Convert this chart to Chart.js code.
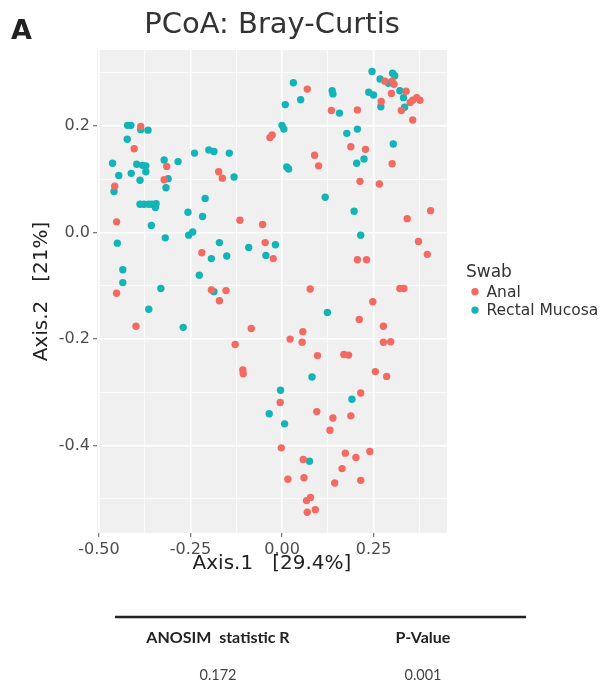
<!DOCTYPE html>
<html>
<head>
<meta charset="utf-8">
<script src="https://cdn.jsdelivr.net/npm/chart.js@4.4.1/dist/chart.umd.min.js"></script>
<style>
  html, body { margin: 0; padding: 0; background: #ffffff; }
  #wrap { position: relative; width: 603px; height: 687px; }
</style>
</head>
<body>
<div id="wrap"><canvas id="c" width="603" height="687"></canvas></div>
<script>
// ---------------- data ----------------
const seriesNames = ['Anal', 'Rectal Mucosa'];
const seriesColors = ['#F26B63', '#12B4B8'];

const analX = [-0.386,-0.404,-0.315,-0.322,-0.457,-0.173,-0.163,
  0.281,0.301,0.306,0.299,0.339,0.357,0.368,0.377,0.350,0.271,0.326,0.357,0.069,0.135,0.206,-0.027,-0.033,0.188,0.228,0.089,0.100,0.301,0.213,0.266,
  -0.452,-0.115,-0.053,-0.219,-0.046,-0.452,-0.193,-0.153,-0.171,-0.399,-0.084,-0.128,
  0.342,0.406,-0.024,0.206,0.231,0.373,0.397,0.077,0.322,0.333,0.248,0.211,0.277,0.057,0.022,0.055,0.277,0.297,
  0.097,0.169,0.182,-0.107,-0.106,0.255,0.286,-0.005,0.095,0.139,0.131,0.215,0.188,-0.002,0.058,0.173,0.202,0.240,0.164,0.016,0.060,0.144,0.215,0.067,0.078,0.069,0.091];
const analY = [0.199,0.157,0.124,0.099,0.087,0.114,0.102,
  0.284,0.284,0.278,0.261,0.265,0.248,0.253,0.248,0.244,0.246,0.229,0.211,0.269,0.229,0.230,0.183,0.178,0.161,0.156,0.145,0.125,0.129,0.096,0.091,
  0.020,0.023,0.015,-0.038,-0.019,-0.114,-0.108,-0.109,-0.128,-0.176,-0.180,-0.210,
  0.026,0.041,-0.049,-0.051,-0.051,-0.017,-0.041,-0.106,-0.105,-0.105,-0.130,-0.163,-0.176,-0.186,-0.200,-0.206,-0.206,-0.205,
  -0.231,-0.229,-0.230,-0.258,-0.265,-0.261,-0.270,-0.319,-0.336,-0.348,-0.371,-0.301,-0.344,-0.404,-0.426,-0.414,-0.422,-0.411,-0.443,-0.463,-0.460,-0.470,-0.465,-0.503,-0.497,-0.525,-0.520];

const mucosaX = [-0.422,-0.413,-0.386,-0.366,-0.423,-0.463,-0.397,-0.381,-0.372,-0.372,-0.412,-0.446,-0.388,-0.322,-0.284,-0.311,-0.317,-0.459,-0.239,-0.200,-0.186,-0.144,-0.131,-0.210,
  0.246,0.302,0.308,0.268,0.291,0.322,0.332,0.237,0.250,0.270,0.335,0.031,0.051,0.009,0.137,0.139,0.157,0.000,0.005,0.177,0.206,0.304,0.224,0.204,0.013,0.018,0.118,
  -0.388,-0.377,-0.364,-0.355,-0.344,-0.346,-0.357,-0.257,-0.217,-0.450,-0.319,-0.255,-0.244,-0.171,-0.193,-0.151,-0.091,-0.044,-0.435,-0.435,-0.226,-0.331,-0.186,-0.364,-0.270,
  0.197,0.215,-0.018,0.124,
  0.082,-0.004,-0.035,0.007,0.191,0.075];
const mucosaY = [0.201,0.201,0.193,0.192,0.175,0.130,0.128,0.126,0.125,0.114,0.111,0.107,0.098,0.136,0.133,0.101,0.084,0.077,0.149,0.155,0.152,0.149,0.104,0.064,
  0.302,0.299,0.294,0.288,0.280,0.266,0.253,0.263,0.258,0.236,0.235,0.281,0.249,0.240,0.266,0.260,0.224,0.201,0.194,0.186,0.194,0.166,0.138,0.130,0.123,0.119,0.066,
  0.053,0.053,0.053,0.053,0.054,0.047,0.013,0.038,0.030,-0.020,-0.010,-0.005,0.001,-0.019,-0.049,-0.044,-0.028,-0.043,-0.070,-0.094,-0.080,-0.105,-0.111,-0.144,-0.178,
  0.040,-0.005,-0.023,-0.150,
  -0.271,-0.296,-0.340,-0.359,-0.313,-0.429];

const xTickValues = [-0.5, -0.25, 0, 0.25];
const xTickLabels = ['-0.50', '-0.25', '0.00', '0.25'];
const xMinorValues = [-0.375, -0.125, 0.125, 0.375];
const yTickValues = [0.2, 0, -0.2, -0.4];
const yTickLabels = ['0.2', '0.0', '-0.2', '-0.4'];
const yMinorValues = [0.3, 0.1, -0.1, -0.3, -0.5];

const tableHeaders = ['ANOSIM  statistic R', 'P-Value'];
const tableValues = ['0.172', '0.001'];

// ---------------- helpers ----------------
const FONT = "'DejaVu Sans', 'Liberation Sans', sans-serif";
function isMajor(list, v) { return list.some(t => Math.abs(t - v) < 1e-9); }
function labelFor(values, labels, v) {
  const i = values.findIndex(t => Math.abs(t - v) < 1e-9);
  return i >= 0 ? labels[i] : '';
}
function gridTicks(major, minor) {
  return major.concat(minor).sort((a, b) => a - b).map(v => ({ value: v }));
}

const panelBg = {
  id: 'panelBg',
  beforeDraw(chart) {
    const { ctx, chartArea: a } = chart;
    ctx.save();
    ctx.fillStyle = '#F0F0F0';
    ctx.fillRect(a.left, a.top, a.right - a.left, a.bottom - a.top);
    ctx.restore();
  }
};

const extras = {
  id: 'extras',
  afterDraw(chart) {
    const ctx = chart.ctx;
    ctx.save();
    // panel tag
    ctx.fillStyle = '#222';
    ctx.font = "bold 27px " + FONT;
    ctx.textAlign = 'left';
    ctx.textBaseline = 'alphabetic';
    ctx.fillText('A', 11, 39);
    // legend
    ctx.fillStyle = '#333';
    ctx.font = "17px " + FONT;
    ctx.fillText('Swab', 466, 277);
    chart.data.datasets.forEach((ds, i) => {
      const cy = 291.7 + i * 18.4;
      ctx.beginPath();
      ctx.fillStyle = ds.backgroundColor;
      ctx.arc(475, cy, 3.7, 0, Math.PI * 2);
      ctx.fill();
      ctx.fillStyle = '#333';
      ctx.font = "15.5px " + FONT;
      ctx.fillText(ds.label, 486.5, cy + 5);
    });
    // ANOSIM table
    ctx.strokeStyle = '#222';
    ctx.lineWidth = 2.5;
    ctx.beginPath();
    ctx.moveTo(115, 617);
    ctx.lineTo(526, 617);
    ctx.stroke();
    const colX = [218, 423];
    ctx.textAlign = 'center';
    ctx.fillStyle = '#222';
    ctx.font = "bold 16px Lato, 'Open Sans', sans-serif";
    tableHeaders.forEach((t, i) => ctx.fillText(t, colX[i], 643));
    ctx.fillStyle = '#444';
    ctx.font = "14.5px Lato, 'Open Sans', sans-serif";
    tableValues.forEach((t, i) => ctx.fillText(t, colX[i], 680));
    ctx.restore();
  }
};

function makeData(xs, ys) { return xs.map((x, i) => ({ x: x, y: ys[i] })); }

new Chart(document.getElementById('c'), {
  type: 'scatter',
  data: {
    datasets: [
      { label: seriesNames[0], data: makeData(analX, analY), backgroundColor: seriesColors[0], borderWidth: 0, pointRadius: 3.7, pointHoverRadius: 3.7 },
      { label: seriesNames[1], data: makeData(mucosaX, mucosaY), backgroundColor: seriesColors[1], borderWidth: 0, pointRadius: 3.7, pointHoverRadius: 3.7 }
    ]
  },
  options: {
    responsive: false,
    animation: false,
    events: [],
    layout: { padding: { left: 30, right: 156, top: 0, bottom: 111.5 } },
    plugins: {
      legend: { display: false },
      tooltip: { enabled: false },
      title: {
        display: true,
        text: 'PCoA: Bray-Curtis',
        fullSize: false,
        color: '#333',
        font: { family: FONT, size: 29, weight: 'normal', lineHeight: 1.2 },
        padding: { top: 7.6, bottom: 7.6 }
      }
    },
    scales: {
      x: {
        type: 'linear',
        min: -0.5055,
        max: 0.4508,
        afterBuildTicks: s => { s.ticks = gridTicks(xTickValues, xMinorValues); },
        afterFit: s => { s.height = 42.5; },
        border: { display: false },
        grid: {
          color: '#FFFFFF',
          lineWidth: c => (c.tick && isMajor(xTickValues, c.tick.value)) ? 1.5 : 0.7,
          tickColor: c => (c.tick && isMajor(xTickValues, c.tick.value)) ? '#555' : 'rgba(0,0,0,0)',
          tickLength: 4,
          tickWidth: 1
        },
        ticks: {
          autoSkip: false,
          maxRotation: 0,
          padding: 3,
          color: '#4D4D4D',
          font: { family: FONT, size: 16 },
          callback: v => labelFor(xTickValues, xTickLabels, v)
        },
        title: {
          display: true,
          text: 'Axis.1   [29.4%]',
          color: '#222',
          font: { family: FONT, size: 20, lineHeight: 1.2 },
          padding: 0
        }
      },
      y: {
        type: 'linear',
        min: -0.5638,
        max: 0.3424,
        afterBuildTicks: s => { s.ticks = gridTicks(yTickValues, yMinorValues); },
        afterFit: s => { s.width = 67; },
        border: { display: false },
        grid: {
          color: '#FFFFFF',
          lineWidth: c => (c.tick && isMajor(yTickValues, c.tick.value)) ? 1.5 : 0.7,
          tickColor: c => (c.tick && isMajor(yTickValues, c.tick.value)) ? '#555' : 'rgba(0,0,0,0)',
          tickLength: 4,
          tickWidth: 1
        },
        ticks: {
          autoSkip: false,
          padding: 3,
          color: '#4D4D4D',
          font: { family: FONT, size: 16 },
          callback: v => labelFor(yTickValues, yTickLabels, v)
        },
        title: {
          display: true,
          text: 'Axis.2   [21%]',
          color: '#222',
          font: { family: FONT, size: 20, lineHeight: 1.2 },
          padding: 0
        }
      }
    }
  },
  plugins: [panelBg, extras]
});
</script>
</body>
</html>
